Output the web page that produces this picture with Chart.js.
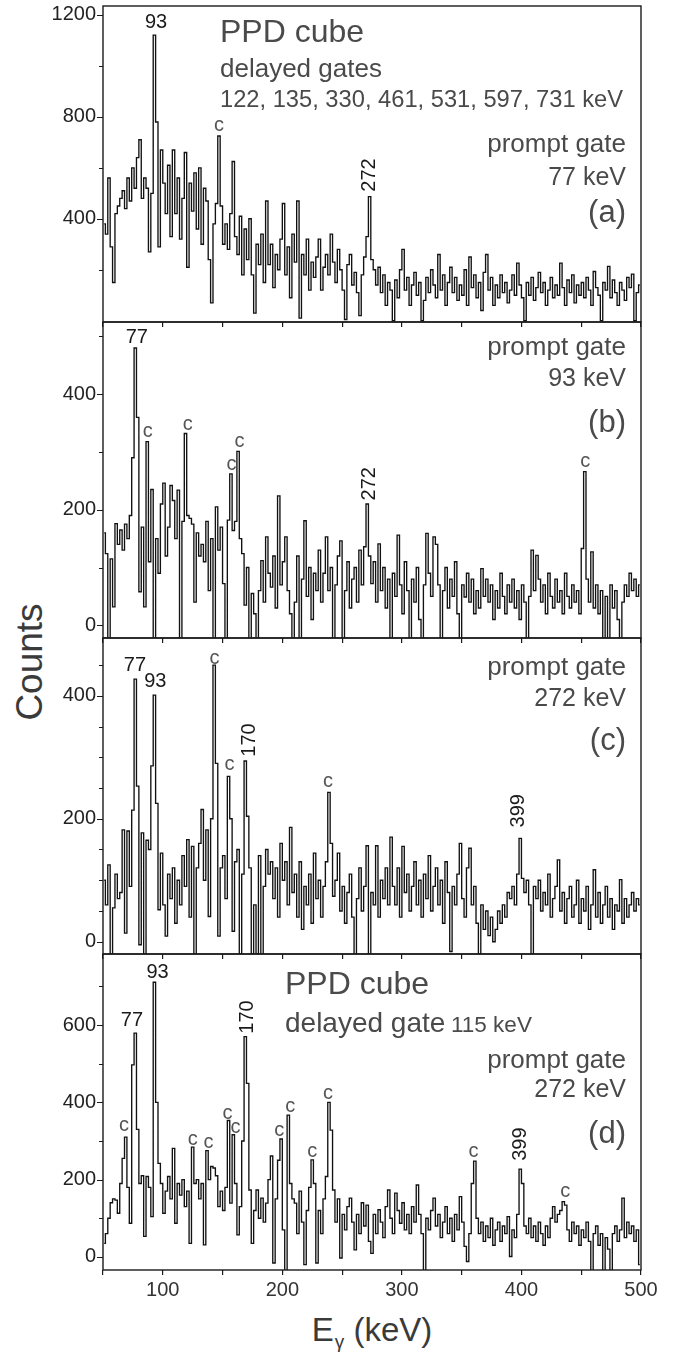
<!DOCTYPE html>
<html>
<head>
<meta charset="utf-8">
<script src="https://cdn.jsdelivr.net/npm/chart.js@4.4.1/dist/chart.umd.min.js"></script>
<style>
  body { margin:0; background:#fff; width:673px; height:1352px; position:relative; overflow:hidden;
         font-family:"Liberation Sans", Arial, sans-serif; }
  canvas { position:absolute; left:0; }
  .axtitle { position:absolute; color:#3a3a3a; white-space:nowrap; line-height:1; }
</style>
</head>
<body>
<div class="axtitle" id="ytitle" style="left:29px; top:662px; font-size:37px; transform:translate(-50%,-50%) rotate(-90deg);">Counts</div>
<div class="axtitle" id="xtitle" style="left:372px; top:1313px; font-size:33px; transform:translateX(-50%);">E<span style="font-size:19px; position:relative; top:7px; margin-left:1px;">γ</span> (keV)</div>
<script>
/* ---------- data: gamma spectra, 2 keV bins centred on 51, 53 ... 499 keV ---------- */
const binFirst = 51, binWidth = 2;
const energies = [];
for (let e = binFirst; e <= 499; e += binWidth) energies.push(e);

// (a) delayed gates 122..731, prompt gate 77 keV
const countsA = [
  380, 340, 560, 290, 150, 420, 450, 480, 510, 440,
  560, 470, 600, 520, 640, 710, 480, 560, 520, 270,
  500, 1121, 780, 290, 670, 540, 420, 610, 330, 670,
  420, 560, 320, 480, 660, 210, 540, 430, 580, 360,
  600, 300, 520, 470, 240, 70, 380, 460, 725, 450,
  300, 380, 280, 420, 625, 330, 260, 410, 180, 360,
  240, 400, 180, 30, 300, 220, 340, 150, 470, 220,
  300, 130, 260, 200, 320, 460, 180, 290, 90, 340,
  230, 470, 10, 260, 180, 320, 120, 230, 170, 250,
  320, 120, 210, 260, 180, 340, 230, 150, 280, 200,
  120, 5, 220, 260, 140, 190, 110, 20, 180, 250,
  330, 487, 240, 200, 140, 210, 110, 180, 60, 150,
  120, 0, 160, 90, 200, 280, 120, 170, 60, 140,
  190, 100, 150, 0, 80, 170, 110, 200, 140, 90,
  260, 120, 180, 60, 150, 210, 110, 170, 80, 140,
  100, 200, 60, 250, 130, 180, 90, 150, 40, 190,
  260, 120, 170, 60, 140, 90, 180, 110, 150, 70,
  120, 180, 100, 226, 140, 90, 0, 150, 100, 170,
  80, 130, 190, 110, 150, 60, 120, 170, 90, 140,
  100, 226, 130, 60, 160, 110, 180, 70, 140, 100,
  150, 90, 170, 120, 60, 193, 130, 100, 0, 150,
  120, 213, 90, 160, 110, 60, 150, 120, 80, 170,
  130, 183, 0, 110, 140
];
// (b) prompt gate 93 keV
const countsB = [
  160, 124, -25, 115, 32, 176, 140, 165, 130, 175,
  150, 190, 290, 480, 360, 58, 170, 32, 318, 110,
  235, -25, 150, 90, 210, 246, 120, 170, 242, 216,
  150, 234, -25, 180, 332, 190, 185, 175, 40, 160,
  120, 140, 110, 180, 60, 150, -25, 205, 130, 170,
  72, -25, 182, 262, 164, 180, 301, 150, 124, 35,
  100, -25, 55, 20, -25, 60, 112, 40, 153, 90,
  66, 120, 30, 224, 70, 110, 153, 60, 20, -25,
  40, 120, -25, 80, 181, 50, 100, 10, 90, 60,
  130, 40, 90, 153, 60, 100, -25, 70, 120, 146,
  -25, 60, 110, 30, 80, 100, 40, 130, 70, 136,
  210, 120, 72, 110, 40, 141, 60, 100, 30, 80,
  -25, 90, 50, 156, 70, 20, 110, 60, -25, 80,
  40, 100, 10, -25, 70, 159, 90, 50, 153, 140,
  70, -25, 60, 100, 30, 80, 50, 110, 20, -25,
  70, 49, 90, 40, 80, 20, 60, 30, 98, 50,
  80, 40, 70, 10, 60, 30, 90, 50, 20, 70,
  40, 80, 30, 60, 10, 70, 40, -25, 50, 130,
  60, 121, 80, 40, 70, 20, 90, 50, 30, 80,
  40, 60, 20, 90, 50, 30, 70, 40, 60, 20,
  133, 266, 80, 40, 127, 30, 70, 20, 60, -25,
  50, -25, 70, 30, 60, 10, -25, 40, 70, 50,
  90, 60, 80, 50, 70
];
// (c) prompt gate 272 keV
const countsC = [
  100, 60, 125, -20, 55, 110, 70, 80, 182, 14,
  180, 90, 214, 427, 253, -5, 177, -20, 165, 150,
  286, 401, 225, 52, 144, 60, 9, 110, 70, 120,
  30, 100, 60, 140, 90, 166, 40, 155, -20, 120,
  160, 215, 100, 182, 41, 200, 450, 290, 9, 120,
  140, 70, 269, 200, 17, 130, 150, -20, 110, 294,
  204, 120, -20, 60, -20, 140, -20, 90, 150, 110,
  130, 70, 120, 40, 160, 100, 130, 60, 186, 80,
  110, 40, 130, 20, 90, 60, 110, 30, 144, 70,
  100, 40, 90, 130, 243, 160, 74, 100, 144, 50,
  90, 30, 80, 110, 40, -20, 70, 120, 50, 90,
  156, -20, 80, 60, 156, 40, 100, 70, 120, 60,
  170, 90, 60, 120, 40, 155, 80, 110, 50, 90,
  130, 60, 100, 40, 110, 70, 140, 50, 90, 120,
  60, 100, 30, 130, 80, -16, 90, 60, 110, 160,
  70, 40, 120, 152, 60, 90, 30, -20, 60, 20,
  50, 10, 40, 0, 20, 50, 30, 60, 40, 80,
  70, 90, 60, 110, 168, 103, 80, 100, 60, -20,
  90, 70, 100, 50, 80, 60, 110, 40, 70, 90,
  133, 50, 80, 30, 70, 90, 40, 60, 100, 30,
  70, 50, 90, 20, 60, 117, 40, 80, 30, 60,
  90, 40, 70, 20, 60, 50, 101, 30, 70, 40,
  60, 80, 50, 70, 60
];
// (d) delayed gate 115 keV, prompt gate 272 keV
const countsD = [
  35, 60, 100, 140, 150, 147, 113, 190, 255, 310,
  180, 87, 497, 579, 330, 190, 210, 53, 208, 180,
  104, 711, 400, 242, 190, 113, 170, 208, 150, 281,
  87, 190, 160, 200, 130, 170, 35, 284, 190, 200,
  150, 190, 31, 275, 200, 234, 230, 210, 130, 170,
  120, 180, 353, 139, 316, 190, 57, 130, 300, 570,
  449, 173, 35, 120, 173, 100, 152, 90, 139, 200,
  261, -16, 150, 250, 305, 70, -40, 367, 190, 150,
  139, 60, 170, 90, -20, 120, 180, 251, 190, -16,
  120, 60, 150, 208, 400, 328, 173, 90, 150, -3,
  110, 70, 130, 152, 90, 18, 110, 60, 140, 80,
  134, 40, 9, 110, 60, 122, 90, 50, 130, 173,
  100, 60, 165, 120, 87, 140, 70, 110, 60, 130,
  90, 186, 110, 60, -40, 100, 70, 120, 152, 80,
  110, 50, 90, 130, 60, 100, 40, 110, 70, 156,
  90, 27, -12, 60, 190, 248, 100, 60, 90, 40,
  80, 50, 100, 30, 70, 90, 40, 80, 60, 104,
  1, 70, 50, 110, 227, 190, 80, 60, 100, 50,
  80, 40, 90, 60, 30, 80, 50, 100, 130, 90,
  110, 120, 143, 134, 70, 40, 90, 60, 80, 30,
  70, 50, 90, 40, -40, 60, 80, 30, 60, -40,
  50, 20, -40, 60, 80, 40, 70, 152, 50, 90,
  60, 80, 40, 70, -20
];

/* ---------- axes ---------- */
const xTicks = [50, 100, 150, 200, 250, 300, 350, 400, 450, 500];
const xTickLabels = [100, 200, 300, 400, 500];
const yTicksA = [200, 400, 600, 800, 1000, 1200], yLabelsA = [400, 800, 1200];
const yTicksB = [0, 100, 200, 300, 400, 500],     yLabelsB = [0, 200, 400];
const yTicksC = [0, 50, 100, 150, 200, 250, 300, 350, 400, 450], yLabelsC = [0, 200, 400];
const yTicksD = [0, 100, 200, 300, 400, 500, 600, 700], yLabelsD = [0, 200, 400, 600];

/* ---------- peak labels (keV, counts) ---------- */
const peaksA = [
  {t:'93', e:94.4, n:1172}, {t:'c', e:147, n:768, g:1}, {t:'272', e:272.5, n:572, r:1}
];
const peaksB = [
  {t:'77', e:78.3, n:499}, {t:'c', e:87.5, n:335, g:1}, {t:'c', e:120.8, n:347, g:1},
  {t:'c', e:157.5, n:279, g:1}, {t:'c', e:164.2, n:319, g:1},
  {t:'272', e:272.5, n:245, r:1}, {t:'c', e:453.3, n:284, g:1}
];
const peaksC = [
  {t:'77', e:76.7, n:450}, {t:'93', e:93.8, n:424}, {t:'c', e:143.3, n:461, g:1},
  {t:'c', e:155.8, n:289, g:1}, {t:'170', e:172.5, n:328, r:1},
  {t:'c', e:238.3, n:260, g:1}, {t:'399', e:397.5, n:213, r:1}
];
const peaksD = [
  {t:'93', e:95.6, n:735}, {t:'77', e:74.2, n:611}, {t:'170', e:170.8, n:621, r:1},
  {t:'c', e:67.5, n:341, g:1}, {t:'c', e:125, n:305, g:1}, {t:'c', e:138.3, n:297, g:1},
  {t:'c', e:154.2, n:372, g:1}, {t:'c', e:160.8, n:336, g:1}, {t:'c', e:197.5, n:328, g:1},
  {t:'c', e:206.7, n:388, g:1}, {t:'c', e:225, n:274, g:1}, {t:'c', e:238.3, n:424, g:1},
  {t:'c', e:360, n:274, g:1}, {t:'399', e:399.2, n:292, r:1}, {t:'c', e:436.7, n:168, g:1}
];

const FONT = '"Liberation Sans", Arial, sans-serif';
Chart.defaults.font.family = FONT;
const GREY = '#4a4a4a';
const PANEL_H = 316, PAD = 24;

// frame, short/long y ticks, panel captions and peak labels
const decor = {
  id: 'decor',
  afterDraw(chart) {
    const o = chart.options.plugins.decor;
    const {ctx, chartArea: a} = chart;
    const xs = chart.scales.x, ys = chart.scales.y;
    ctx.save();
    ctx.strokeStyle = '#1a1a1a';
    ctx.lineWidth = 1.4;
    ctx.strokeRect(a.left, a.top, a.right - a.left, a.bottom - a.top);

    // y ticks: labelled ones long, the others short
    ctx.lineWidth = 1.2;
    ctx.beginPath();
    for (const v of o.yTicks) {
      const py = Math.round(ys.getPixelForValue(v)) + 0.5;
      const len = o.yLabels.includes(v) ? 6 : 4;
      ctx.moveTo(a.left - len, py);
      ctx.lineTo(a.left, py);
    }
    ctx.stroke();

    for (const tx of o.texts) {
      ctx.font = tx.s + 'px ' + FONT;
      ctx.fillStyle = GREY;
      ctx.textAlign = tx.a;
      ctx.textBaseline = 'alphabetic';
      ctx.fillText(tx.t, tx.x, tx.y - o.canvasTop);
    }

    ctx.font = '20px ' + FONT;
    ctx.textAlign = 'center';
    ctx.textBaseline = 'middle';
    for (const p of o.peaks) {
      const px = xs.getPixelForValue(p.e), py = ys.getPixelForValue(p.n);
      ctx.fillStyle = p.g ? '#555' : '#1a1a1a';
      ctx.save();
      ctx.translate(px, py);
      if (p.r) ctx.rotate(-Math.PI / 2);
      ctx.fillText(p.t, 0, 0);
      ctx.restore();
    }
    ctx.restore();
  }
};

function makePanel(cfg) {
  const xAxisH = cfg.last ? 40 : PAD;
  const cv = document.createElement('canvas');
  cv.width = 673;
  cv.height = PAD + PANEL_H + xAxisH;
  const canvasTop = cfg.top - PAD;
  cv.style.top = canvasTop + 'px';
  document.body.appendChild(cv);

  new Chart(cv, {
    type: 'line',
    data: {
      datasets: [{
        data: energies.map((e, i) => ({x: e, y: cfg.counts[i]})),
        stepped: 'middle',
        borderColor: '#111',
        borderWidth: 1.35,
        pointRadius: 0,
        fill: false
      }]
    },
    options: {
      responsive: false,
      animation: false,
      devicePixelRatio: 1,
      layout: {padding: {top: PAD, right: 32, left: 0, bottom: 0}},
      plugins: {
        legend: {display: false},
        tooltip: {enabled: false},
        decor: {texts: cfg.texts, peaks: cfg.peaks, yTicks: cfg.yTicks, yLabels: cfg.yLabels, canvasTop}
      },
      scales: {
        x: {
          type: 'linear', min: 50, max: 500,
          afterBuildTicks: s => { s.ticks = xTicks.map(v => ({value: v})); },
          afterFit: s => { s.height = xAxisH; },
          border: {display: false},
          grid: {drawOnChartArea: false, tickLength: 5, color: '#1a1a1a', lineWidth: 1.2},
          ticks: {
            autoSkip: false, maxRotation: 0, padding: 3, color: '#333',
            font: {size: 20},
            callback: v => (cfg.last && xTickLabels.includes(v)) ? String(v) : ''
          }
        },
        y: {
          type: 'linear', min: cfg.yMin, max: cfg.yMax,
          afterBuildTicks: s => { s.ticks = cfg.yTicks.map(v => ({value: v})); },
          afterFit: s => { s.width = 103; },
          border: {display: false},
          grid: {drawOnChartArea: false, drawTicks: false},
          ticks: {
            padding: 7, color: '#222',
            font: {size: 20},
            callback: v => cfg.yLabels.includes(v) ? String(v) : ''
          }
        }
      }
    },
    plugins: [decor]
  });
}

makePanel({
  top: 6, counts: countsA, yMin: -5, yMax: 1235, yTicks: yTicksA, yLabels: yLabelsA, peaks: peaksA,
  texts: [
    {t:'PPD cube', x:220, y:42, s:32, a:'left'},
    {t:'delayed gates', x:220, y:77, s:26, a:'left'},
    {t:'122, 135, 330, 461, 531, 597, 731 keV', x:220, y:107, s:23.7, a:'left'},
    {t:'prompt gate', x:626, y:152, s:26, a:'right'},
    {t:'77 keV', x:626, y:185, s:25, a:'right'},
    {t:'(a)', x:626, y:222, s:31, a:'right'}
  ]
});
makePanel({
  top: 322, counts: countsB, yMin: -22, yMax: 525, yTicks: yTicksB, yLabels: yLabelsB, peaks: peaksB,
  texts: [
    {t:'prompt gate', x:626, y:355, s:26, a:'right'},
    {t:'93 keV', x:626, y:386, s:25, a:'right'},
    {t:'(b)', x:626, y:432, s:31, a:'right'}
  ]
});
makePanel({
  top: 638, counts: countsC, yMin: -20, yMax: 494, yTicks: yTicksC, yLabels: yLabelsC, peaks: peaksC,
  texts: [
    {t:'prompt gate', x:626, y:675, s:26, a:'right'},
    {t:'272 keV', x:626, y:706, s:25, a:'right'},
    {t:'(c)', x:626, y:750, s:31, a:'right'}
  ]
});
makePanel({
  top: 954, counts: countsD, yMin: -34, yMax: 784, yTicks: yTicksD, yLabels: yLabelsD, peaks: peaksD, last: true,
  texts: [
    {t:'PPD cube', x:285, y:994, s:32, a:'left'},
    {t:'delayed gate', x:285, y:1032, s:28, a:'left'},
    {t:'115 keV', x:451, y:1032, s:22.5, a:'left'},
    {t:'prompt gate', x:626, y:1068, s:26, a:'right'},
    {t:'272 keV', x:626, y:1097, s:25, a:'right'},
    {t:'(d)', x:626, y:1143, s:31, a:'right'}
  ]
});
</script>
</body>
</html>
